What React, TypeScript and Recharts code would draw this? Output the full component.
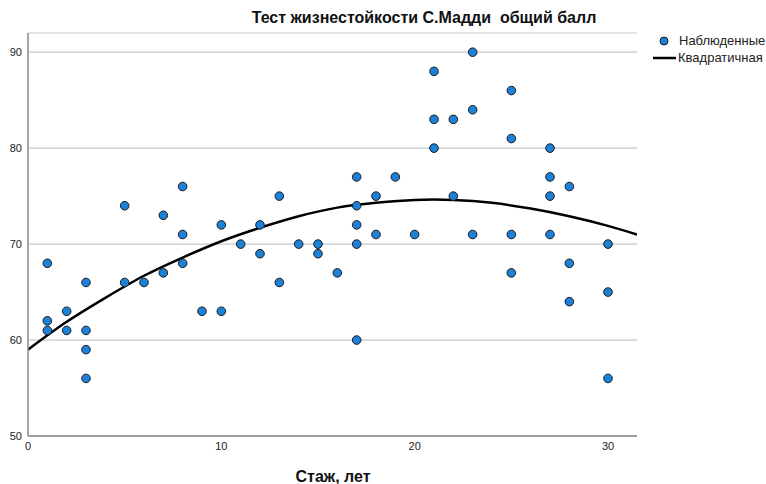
import { ComposedChart, Scatter, Line, XAxis, YAxis, CartesianGrid } from "recharts"

// стаж (лет) и общий балл
const stazh = [
  1, 1, 1, 2, 2, 3, 3, 3, 3, 5, 5, 6, 7, 7, 8, 8, 8, 9, 10, 10,
  11, 12, 12, 13, 13, 14, 15, 15, 16, 17, 17, 17, 17, 17, 18, 18, 19, 20,
  21, 21, 21, 22, 22, 23, 23, 23, 25, 25, 25, 25, 27, 27, 27, 27, 28, 28, 28,
  30, 30, 30,
]
const ball = [
  68, 62, 61, 63, 61, 66, 61, 59, 56, 74, 66, 66, 73, 67, 76, 71, 68, 63, 72, 63,
  70, 72, 69, 75, 66, 70, 70, 69, 67, 77, 74, 72, 70, 60, 75, 71, 77, 71,
  88, 83, 80, 83, 75, 90, 84, 71, 86, 81, 71, 67, 80, 77, 75, 71, 76, 68, 64,
  70, 65, 56,
]

// квадратичная кривая
const fitX = [0, 2, 4, 6, 8, 10, 12, 14, 16, 18, 20, 22, 24, 26, 28, 30, 31.5]
const fitY = [59.0, 61.9, 64.4, 66.7, 68.6, 70.3, 71.7, 72.9, 73.8, 74.3, 74.6, 74.6, 74.3, 73.7, 72.9, 71.9, 71.0]

const xTicks = [0, 10, 20, 30]
const yTicks = [50, 60, 70, 80, 90]

const observed = stazh.map((x, i) => ({ x, y: ball[i] }))
const fitted = fitX.map((x, i) => ({ x, y: fitY[i] }))

const font = '"Liberation Sans", Arial, sans-serif'
const blue = "#1b82d8"

export default function App() {
  return (
    <div style={{ position: "absolute", left: 0, top: 0, width: 766, height: 484, background: "#fff", fontFamily: font }}>
      <div style={{ position: "absolute", left: 0, width: 848, top: 9, textAlign: "center", fontSize: 16, fontWeight: "bold", color: "#111" }}>
        Тест жизнестойкости С.Мадди&nbsp;&nbsp;общий балл
      </div>
      <ComposedChart width={766} height={484} margin={{ top: 33, right: 129, bottom: 28, left: 0 }}>
        <CartesianGrid vertical={false} stroke="#c8c8c8" strokeWidth={1.2} />
        <XAxis
          type="number"
          dataKey="x"
          domain={[0, 31.5]}
          ticks={xTicks}
          allowDataOverflow
          tickLine={false}
          tickSize={0}
          tickMargin={6}
          height={20}
          axisLine={{ stroke: "#888", strokeWidth: 1.5 }}
          tick={{ fontSize: 11, fill: "#222", fontFamily: font }}
        />
        <YAxis
          type="number"
          dataKey="y"
          domain={[50, 92]}
          ticks={yTicks}
          allowDataOverflow
          tickLine={false}
          tickSize={0}
          tickMargin={6}
          width={28}
          axisLine={{ stroke: "#888", strokeWidth: 1.5 }}
          tick={{ fontSize: 11, fill: "#222", fontFamily: font }}
        />
        <Line
          data={fitted}
          dataKey="y"
          type="natural"
          stroke="#000"
          strokeWidth={2.5}
          dot={false}
          isAnimationActive={false}
        />
        <Scatter
          data={observed}
          dataKey="y"
          fill={blue}
          stroke="#1a1a1a"
          strokeWidth={1}
          shape={(p: any) => <circle cx={p.cx} cy={p.cy} r={4.3} fill={blue} stroke="#1a1a1a" strokeWidth={1} />}
          isAnimationActive={false}
        />
      </ComposedChart>
      <div style={{ position: "absolute", left: 0, width: 666, top: 468, textAlign: "center", fontSize: 16, fontWeight: "bold", color: "#111" }}>
        Стаж, лет
      </div>
      <svg style={{ position: "absolute", left: 650, top: 30 }} width={116} height={40}>
        <circle cx={14} cy={11} r={4} fill={blue} stroke="#1a1a1a" strokeWidth={1} />
        <text x={29} y={15} fontSize={13} fill="#222" fontFamily={font}>Наблюденные</text>
        <line x1={3} y1={28} x2={26} y2={28} stroke="#000" strokeWidth={2.5} />
        <text x={28} y={32} fontSize={13} fill="#222" fontFamily={font}>Квадратичная</text>
      </svg>
    </div>
  )
}
